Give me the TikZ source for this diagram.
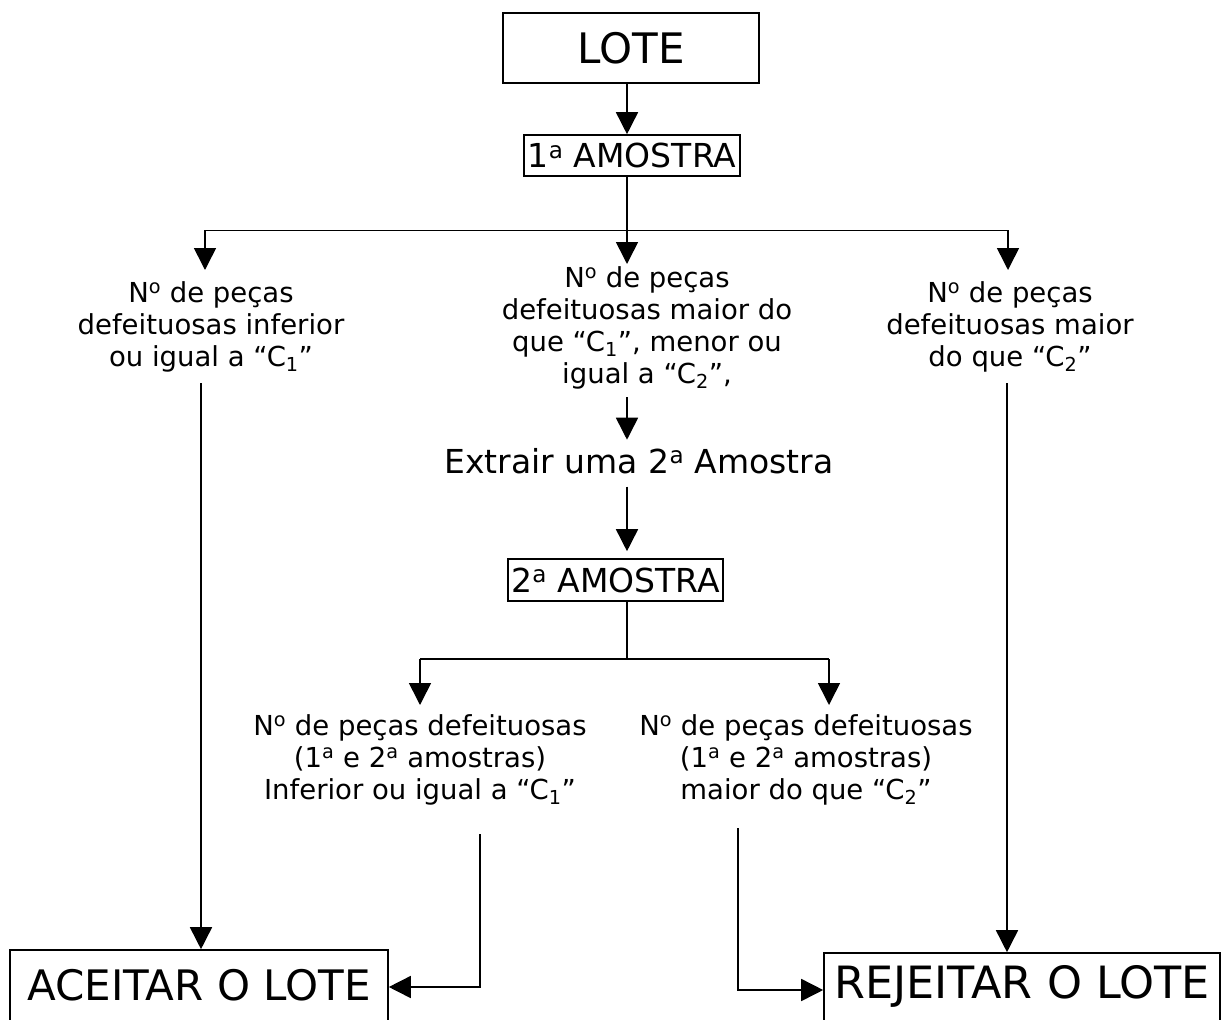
\documentclass[tikz,border=0pt]{standalone}
\usepackage{fontspec}
\setmainfont{DejaVu Sans}
\usetikzlibrary{arrows.meta,calc}

\begin{document}
\begin{tikzpicture}[x=1pt,y=-1pt,
  every node/.style={font=\fontsize{27.5}{32}\selectfont},
  boxed/.style={draw,line width=1.6pt,inner sep=0pt},
  bigfont/.style={font=\fontsize{42}{48}\selectfont},
  midfont/.style={font=\fontsize{33}{38}\selectfont},
  txt/.style={align=center,inner xsep=2pt,inner ysep=0pt,anchor=north},
  conn/.style={line width=1.6pt,-{Triangle[width=22pt,length=22pt]}},
  plain/.style={line width=1.6pt},
  thinline/.style={line width=1pt}]
\useasboundingbox (0,0) rectangle (1227,1020);
\fill[white] (0,0) rectangle (1227,1020);
\clip (0,0) rectangle (1227,1020);

% reference columns for the vertical connectors
\coordinate (spine) at (627,0);
\coordinate (cl) at (201,0);
\coordinate (cr) at (1007,0);
\coordinate (c3) at (480,0);
\coordinate (c4) at (738,0);

% boxes
\node[boxed,bigfont,minimum width=256pt,minimum height=70pt] (lote) at (631,48) {LOTE};
\node[boxed,midfont,minimum width=216pt,minimum height=41pt] (am1) at (632,155.5) {1\textsuperscript{a} AMOSTRA};
\node[boxed,midfont,minimum width=215pt,minimum height=42pt] (am2) at (615.5,580) {2\textsuperscript{a} AMOSTRA};
\node[boxed,bigfont,minimum width=378pt,minimum height=74pt,text depth=4pt] (acc) at (199,987) {ACEITAR O LOTE};
\node[boxed,font=\fontsize{44.5}{50}\selectfont,minimum width=396pt,minimum height=74pt,text depth=16pt] (rej) at (1022,990) {REJEITAR O LOTE};

% decision texts
\node[txt,inner ysep=11pt] (t1) at (211,270)
  {N\textsuperscript{o} de peças\\defeituosas inferior\\ou igual a “C\textsubscript{1}”};
\node[txt,inner ysep=2pt] (t2) at (647,264)
  {N\textsuperscript{o} de peças\\defeituosas maior do\\que “C\textsubscript{1}”, menor ou\\igual a “C\textsubscript{2}”,};
\node[txt,inner ysep=11pt] (t5) at (1010,270)
  {N\textsuperscript{o} de peças\\defeituosas maior\\do que “C\textsubscript{2}”};
\node[font=\fontsize{33}{38}\selectfont,inner sep=0pt,anchor=base] (ext) at (639,473)
  {Extrair uma 2\textsuperscript{a} Amostra};
\node[txt,inner ysep=9pt] (t3) at (420,705)
  {N\textsuperscript{o} de peças defeituosas\\(1\textsuperscript{a} e 2\textsuperscript{a} amostras)\\Inferior ou igual a “C\textsubscript{1}”};
\node[txt,inner ysep=9pt] (t4) at (806,705)
  {N\textsuperscript{o} de peças defeituosas\\(1\textsuperscript{a} e 2\textsuperscript{a} amostras)\\maior do que “C\textsubscript{2}”};

% main spine
\draw[conn] (lote.south -| spine) -- (am1.north -| spine);
\draw[conn] (am1.south -| spine) -- (t2.north -| spine);
\draw[conn,shorten <=6pt,shorten >=8pt] (t2.south -| spine) -- (ext.north -| spine);
\draw[conn,shorten <=13pt,shorten >=7pt] (ext.south -| spine) -- (am2.north -| spine);

% first branching
\coordinate (hl) at (205,230);
\coordinate (hr) at (1008,230);
\draw[thinline] (hl) -- (hr);
\draw[conn] (hl) -- (hl |- t1.north);
\draw[conn] (hr) -- (hr |- t5.north);

% second branching
\coordinate (bl2) at (420,659);
\coordinate (br2) at (829,659);
\draw[plain] (am2.south -| spine) -- (spine |- bl2);
\draw[plain] (bl2) -- (br2);
\draw[conn] (bl2) -- (bl2 |- t3.north);
\draw[conn] (br2) -- (br2 |- t4.north);

% outcomes
\draw[conn] (t1.south -| cl) -- (acc.north -| cl);
\draw[conn] (t5.south -| cr) -- (rej.north -| cr);
\draw[conn,shorten <=20pt] (t3.south -| c3) |- (acc.east);
\draw[conn,shorten <=14pt] (t4.south -| c4) |- (rej.west);
\end{tikzpicture}
\end{document}
